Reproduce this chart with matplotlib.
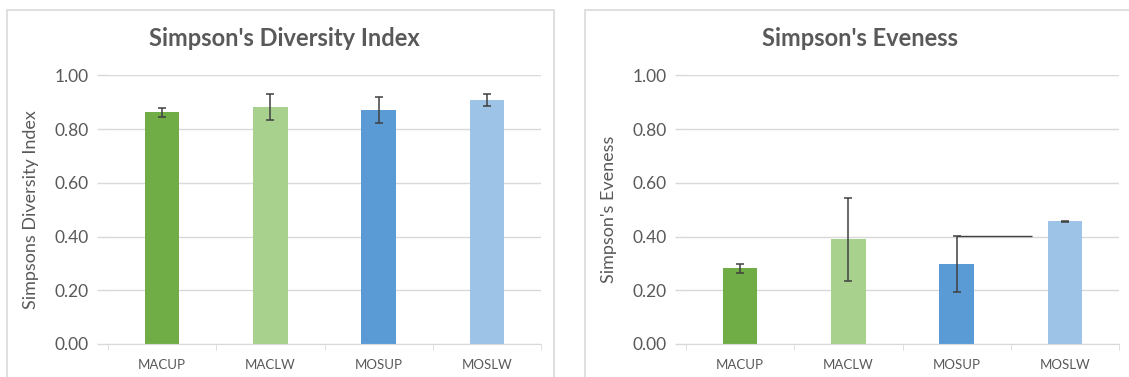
import matplotlib.pyplot as plt
import numpy as np
from matplotlib.patches import Rectangle

sites = ['MACUP', 'MACLW', 'MOSUP', 'MOSLW']
diversity = [0.862, 0.883, 0.871, 0.908]
diversity_err = [0.016, 0.048, 0.048, 0.021]
evenness = [0.281, 0.389, 0.298, 0.456]
evenness_err = [0.018, 0.154, 0.105, 0.003]
colors = ['#70AD47', '#A9D18E', '#5B9BD5', '#9DC3E6']

plt.rcParams['font.family'] = ['Lato', 'DejaVu Sans']

fig = plt.figure(figsize=(11.29, 3.77), dpi=100)
W, H = 1129, 377

# light frames around each chart
for x0, x1 in [(7, 554), (585, 1140)]:
    fig.add_artist(Rectangle((x0 / W, -0.1), (x1 - x0) / W, (H - 10) / H + 0.1,
                             transform=fig.transFigure, fill=False,
                             edgecolor='#D9D9D9', linewidth=1.2))


def draw(left, vals, errs, title, ylabel, title_x):
    ax = fig.add_axes([left / W, (H - 344) / H, 433 / W, 268.7 / H])
    x = np.arange(len(sites))
    ax.bar(x, vals, 0.32, color=colors, zorder=2)
    ax.errorbar(x, vals, yerr=errs, fmt='none', ecolor='#404040',
                elinewidth=1.1, capsize=3, capthick=1.1, zorder=3)
    ax.set_xlim(-0.5, 3.5)
    ax.set_ylim(0, 1.0)
    ax.set_yticks(np.arange(0, 1.01, 0.2))
    ax.set_yticklabels([f'{v:.2f}' for v in np.arange(0, 1.01, 0.2)])
    ax.yaxis.grid(True, color='#D9D9D9', linewidth=1)
    ax.set_axisbelow(True)
    for s in ['left', 'right', 'top']:
        ax.spines[s].set_visible(False)
    ax.spines['bottom'].set_color('#D9D9D9')
    ax.tick_params(axis='y', length=8, color='#D9D9D9', width=1, pad=6,
                   labelsize=12.5, labelcolor='#595959')
    ax.set_xticks(x)
    ax.set_xticklabels(sites)
    ax.set_xticks(np.arange(-0.5, 4, 1), minor=True)
    ax.tick_params(axis='x', which='major', length=0, pad=11,
                   labelsize=9.5, labelcolor='#595959')
    ax.tick_params(axis='x', which='minor', length=4, color='#D9D9D9')
    ax.set_ylabel(ylabel, fontsize=13, color='#595959')
    ax.yaxis.set_label_coords(-0.16, 0.5)
    fig.text(title_x / W, 1 - 38 / H, title, ha='center', va='center',
             fontsize=17, fontweight='bold', color='#595959')
    return ax


draw(108, diversity, diversity_err, "Simpson's Diversity Index",
     'Simpsons Diversity Index', 284)
ax2 = draw(686, evenness, evenness_err, "Simpson's Eveness",
           "Simpson's Eveness", 860)
# stray connector running off the MOSUP upper cap
ax2.hlines(evenness[2] + evenness_err[2], 2, 2.7, color='#404040',
           linewidth=1, zorder=3)

fig.savefig('out.png', dpi=100)
